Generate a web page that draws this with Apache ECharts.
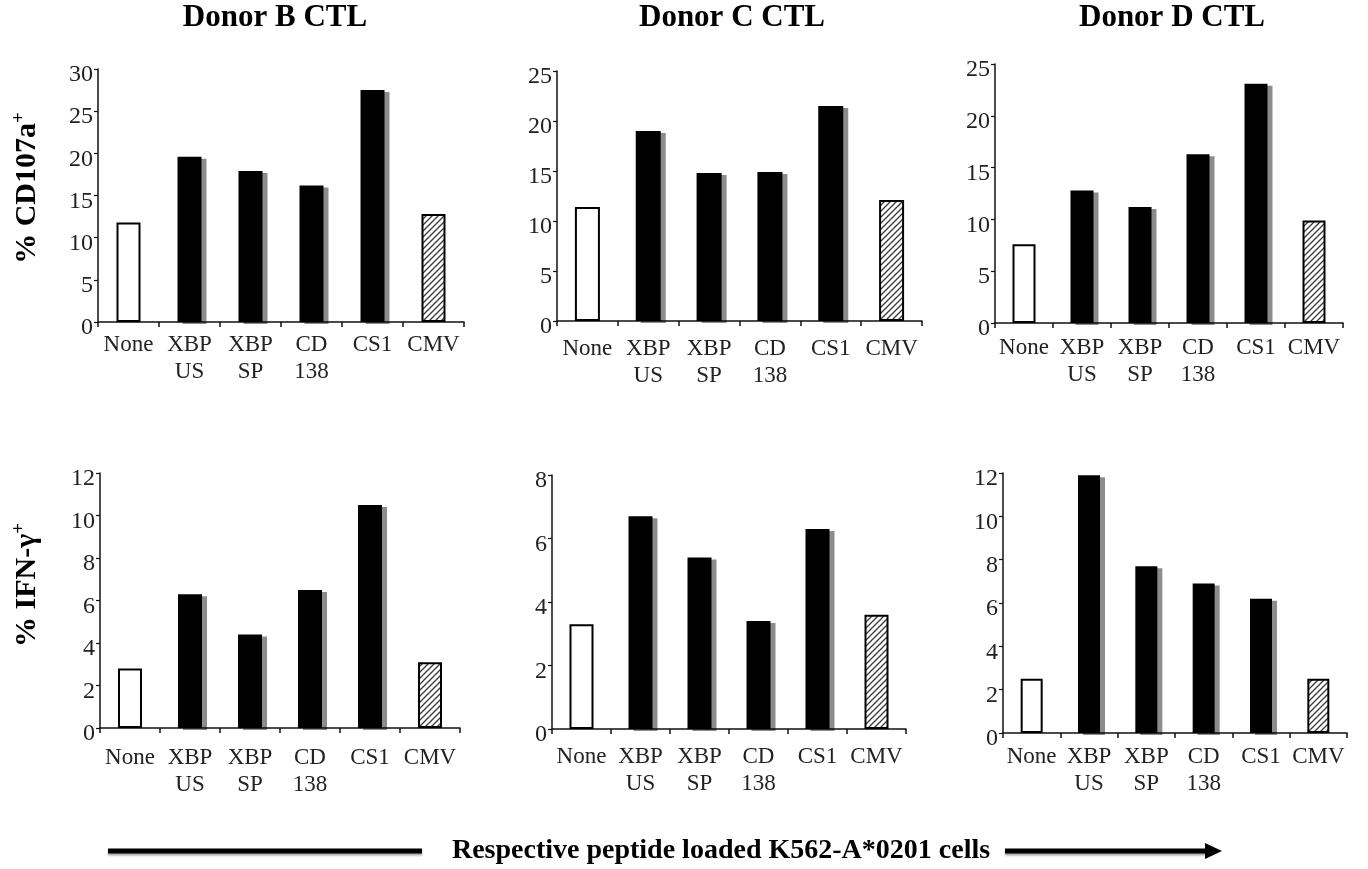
<!DOCTYPE html>
<html>
<head>
<meta charset="utf-8">
<script src="https://cdn.jsdelivr.net/npm/echarts@6/dist/echarts.min.js"></script>
<style>
  html, body { margin: 0; padding: 0; background: #fff; }
  #chart { width: 1368px; height: 869px; }
</style>
</head>
<body>
<div id="chart"></div>
<script>
// categories (two-line labels as in the figure)
const categories = ['None', 'XBP\nUS', 'XBP\nSP', 'CD\n138', 'CS1', 'CMV']

// % CD107a+ per donor
const donorB_CD107a = [11.8, 19.6, 17.9, 16.2, 27.5, 12.8]
const donorC_CD107a = [11.4, 19.0, 14.8, 14.9, 21.5, 12.1]
const donorD_CD107a = [7.6, 12.8, 11.2, 16.3, 23.1, 9.9]

// % IFN-gamma+ per donor
const donorB_IFNg = [2.8, 6.3, 4.4, 6.5, 10.5, 3.1]
const donorC_IFNg = [3.3, 6.7, 5.4, 3.4, 6.3, 3.6]
const donorD_IFNg = [2.5, 11.9, 7.7, 6.9, 6.2, 2.5]

// y axis ranges
const yMax = [30, 25, 25, 12, 8, 12]
const yStep = [5, 5, 5, 2, 2, 2]

const titles = ['Donor B CTL', 'Donor C CTL', 'Donor D CTL']

// panel layout (pixels)
const layout = [
  { left: 98, top: 69, width: 366, height: 253, barWidth: 24, labelMargin: 9 },
  { left: 557, top: 71, width: 365, height: 250, barWidth: 25, labelMargin: 14 },
  { left: 995, top: 64, width: 348, height: 259, barWidth: 23, labelMargin: 11 },
  { left: 100, top: 473, width: 360, height: 255, barWidth: 24, labelMargin: 16 },
  { left: 552, top: 475, width: 354, height: 254, barWidth: 24, labelMargin: 14 },
  { left: 1003, top: 473, width: 344, height: 260, barWidth: 22, labelMargin: 10 }
]
const panelData = [donorB_CD107a, donorC_CD107a, donorD_CD107a, donorB_IFNg, donorC_IFNg, donorD_IFNg]

const serif = '"Liberation Serif", "Times New Roman", serif'

// 斜线填充
function hatchPattern() {
  const c = document.createElement('canvas')
  c.width = c.height = 6
  const g = c.getContext('2d')
  g.fillStyle = '#fff'
  g.fillRect(0, 0, 6, 6)
  g.strokeStyle = '#3a3a3a'
  g.lineWidth = 1.3
  g.beginPath()
  g.moveTo(0, 6); g.lineTo(6, 0)
  g.moveTo(-3, 3); g.lineTo(3, -3)
  g.moveTo(3, 9); g.lineTo(9, 3)
  g.stroke()
  return c
}
const hatch = { image: hatchPattern(), repeat: 'repeat' }

const shadow = { shadowColor: 'rgba(0,0,0,0.45)', shadowBlur: 0, shadowOffsetX: 5, shadowOffsetY: 2 }

function barItem(v, i) {
  if (i === 0) {
    return { value: v, itemStyle: { color: '#fff', borderColor: '#000', borderWidth: 2 } }
  }
  if (i === categories.length - 1) {
    return { value: v, itemStyle: { color: hatch, borderColor: '#000', borderWidth: 2 } }
  }
  return { value: v, itemStyle: { color: '#000', ...shadow } }
}

const grid = [], xAxis = [], yAxis = [], series = []
layout.forEach((p, k) => {
  grid.push({ left: p.left, top: p.top, width: p.width, height: p.height, containLabel: false })
  xAxis.push({
    type: 'category',
    gridIndex: k,
    data: categories,
    boundaryGap: true,
    axisLine: { lineStyle: { color: '#111', width: 1.5 } },
    axisTick: { show: true, length: 5, lineStyle: { color: '#111', width: 1.5 } },
    axisLabel: {
      interval: 0, margin: p.labelMargin, color: '#222',
      fontFamily: serif, fontSize: 23, lineHeight: 27
    },
    splitLine: { show: false }
  })
  yAxis.push({
    type: 'value',
    gridIndex: k,
    min: 0,
    max: yMax[k],
    interval: yStep[k],
    axisLine: { show: true, lineStyle: { color: '#111', width: 1.5 } },
    axisTick: { show: true, length: 4, lineStyle: { color: '#111', width: 1.2 } },
    axisLabel: {
      margin: 5, color: '#222', fontFamily: serif, fontSize: 24,
      verticalAlign: 'top', lineHeight: 12
    },
    splitLine: { show: false }
  })
  series.push({
    type: 'bar',
    xAxisIndex: k,
    yAxisIndex: k,
    barWidth: p.barWidth,
    data: panelData[k].map(barItem),
    animation: false
  })
})

const graphic = []
const titleX = [275, 732, 1172]
titles.forEach((t, i) => {
  graphic.push({
    type: 'text', x: titleX[i], y: 18,
    style: { text: t, font: 'bold 31px ' + serif, fill: '#000', align: 'center', verticalAlign: 'middle' }
  })
})

// y 轴标题
graphic.push({
  type: 'text', x: 27, y: 188, rotation: Math.PI / 2,
  style: {
    text: '{m|% CD107a}{s|+}',
    align: 'center', verticalAlign: 'middle',
    rich: {
      m: { font: 'bold 30px ' + serif, fill: '#000', lineHeight: 34 },
      s: { font: 'bold 19px ' + serif, fill: '#000', verticalAlign: 'top', lineHeight: 34 }
    }
  }
})
graphic.push({
  type: 'text', x: 27, y: 585, rotation: Math.PI / 2,
  style: {
    text: '{m|% IFN-\u03b3}{s|+}',
    align: 'center', verticalAlign: 'middle',
    rich: {
      m: { font: 'bold 30px ' + serif, fill: '#000', lineHeight: 34 },
      s: { font: 'bold 19px ' + serif, fill: '#000', verticalAlign: 'top', lineHeight: 34 }
    }
  }
})

// bottom arrow
const arrowStyle = { stroke: '#000', lineWidth: 5, shadowColor: 'rgba(0,0,0,0.35)', shadowBlur: 2, shadowOffsetY: 2 }
graphic.push({ type: 'line', shape: { x1: 108, y1: 851, x2: 422, y2: 851 }, style: arrowStyle })
graphic.push({ type: 'line', shape: { x1: 1005, y1: 851, x2: 1210, y2: 851 }, style: arrowStyle })
graphic.push({ type: 'polygon', shape: { points: [[1205, 843], [1222, 851], [1205, 859]] }, style: { fill: '#000' } })
graphic.push({
  type: 'text', x: 721, y: 851,
  style: { text: 'Respective peptide loaded K562-A*0201 cells', font: 'bold 28px ' + serif, fill: '#000', align: 'center', verticalAlign: 'middle' }
})

const chart = echarts.init(document.getElementById('chart'), null, { renderer: 'canvas' })
chart.setOption({
  backgroundColor: '#fff',
  animation: false,
  grid, xAxis, yAxis, series, graphic
})

window.addEventListener('resize', () => chart.resize())
</script>
</body>
</html>
